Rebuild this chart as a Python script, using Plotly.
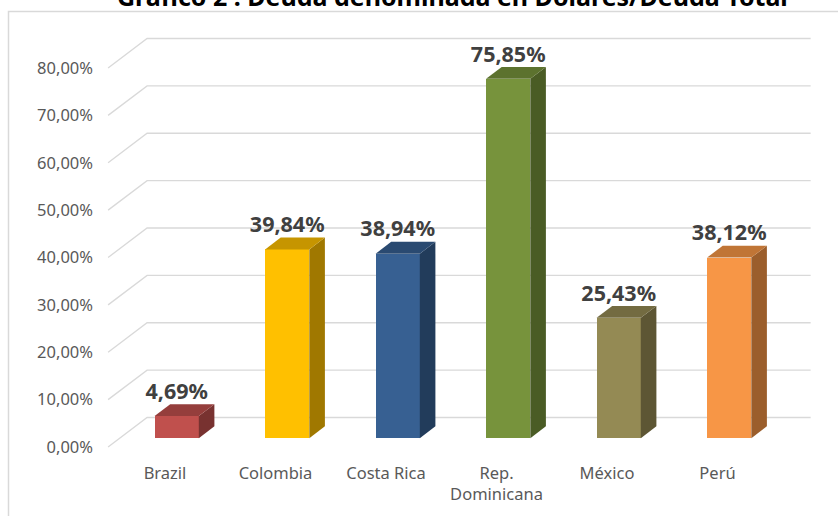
import plotly.graph_objects as go

# ---- data ----
categories = ["Brazil", "Colombia", "Costa Rica", "Rep.<br>Dominicana", "México", "Perú"]
values = [4.69, 39.84, 38.94, 75.85, 25.43, 38.12]
y_ticks = [0, 10, 20, 30, 40, 50, 60, 70, 80]
y_tick_labels = [f"{t:.2f}%".replace(".", ",") for t in y_ticks]
value_labels = [f"{v:.2f}%".replace(".", ",") for v in values]
front_colors = ["#C0504D", "#FFC000", "#376092", "#77933C", "#948A54", "#F79646"]
title_text = "Gráfico 2 : Deuda denominada en Dólares/Deuda Total"

# ---- geometry (pixel layout) ----
W, H = 838, 516
L, R, T, B = 100, 818, 20, 452
px_cat, px_pct = 110.5, 4.7375
cat0_px, zero_px = 165, 447
x_range = [(L - cat0_px) / px_cat, (R - cat0_px) / px_cat]
y_range = [(zero_px - B) / px_pct, (zero_px - T) / px_pct]

XL, XR = -0.515, 5.49          # front-plane extent of the floor/walls
DX, DY = 39 / px_cat, 29.5 / px_pct   # depth offset of back wall
f0, f1 = 0.3, 0.7              # bar front / back depth fractions
bw = 0.4


def shade(hexc, k):
    hexc = hexc.lstrip("#")
    r, g, b = (int(hexc[i:i + 2], 16) for i in (0, 2, 4))
    return "#%02X%02X%02X" % (int(r * k), int(g * k), int(b * k))


fig = go.Figure()

# gridlines (left wall diagonal + back wall horizontal)
shapes = []
for t in y_ticks:
    path = f"M {XL},{t} L {XL + DX},{t + DY} L {XR + DX},{t + DY}"
    shapes.append(dict(type="path", path=path, xref="x", yref="y", layer="below",
                       line=dict(color="#D9D9D9", width=1.3)))


def px2paper_x(px):
    return (px - L) / (R - L)


def px2paper_y(py):
    return (B - py) / (B - T)


# chart-area border (left and top)
shapes.append(dict(type="path", xref="paper", yref="paper",
                   path=f"M {px2paper_x(8.5)},{px2paper_y(H + 5)} L {px2paper_x(8.5)},{px2paper_y(11.5)} L {px2paper_x(W + 5)},{px2paper_y(11.5)}",
                   line=dict(color="#D9D9D9", width=1.5)))

bx0, by0 = DX * f0, DY * f0
ddx, ddy = DX * (f1 - f0), DY * (f1 - f0)
xc = [i + bx0 for i in range(len(categories))]

# front faces
fig.add_trace(go.Bar(x=xc, y=values, base=[by0] * len(values), width=bw,
                     marker=dict(color=front_colors, line=dict(width=0)),
                     hoverinfo="skip", showlegend=False))

# side & top faces
for x, v, c in zip(xc, values, front_colors):
    top = by0 + v
    fig.add_trace(go.Scatter(
        x=[x + bw / 2, x + bw / 2 + ddx, x + bw / 2 + ddx, x + bw / 2, x + bw / 2],
        y=[by0, by0 + ddy, top + ddy, top, by0],
        fill="toself", fillcolor=shade(c, 0.63), mode="lines", line=dict(width=0),
        hoverinfo="skip", showlegend=False))
    fig.add_trace(go.Scatter(
        x=[x - bw / 2, x + bw / 2, x + bw / 2 + ddx, x - bw / 2 + ddx, x - bw / 2],
        y=[top, top, top + ddy, top + ddy, top],
        fill="toself", fillcolor=shade(c, 0.78), mode="lines", line=dict(width=0),
        hoverinfo="skip", showlegend=False))

# data labels
fig.add_trace(go.Scatter(
    x=xc, y=[by0 + v + ddy for v in values], mode="text", text=value_labels,
    textposition="top center", cliponaxis=False,
    textfont=dict(family="Noto Sans", size=21.5, color="#404040", weight="bold"),
    hoverinfo="skip", showlegend=False))

fig.update_layout(
    width=W, height=H,
    margin=dict(l=L, r=W - R, t=T, b=H - B, pad=0),
    plot_bgcolor="white", paper_bgcolor="white",
    shapes=shapes,
    bargap=0,
    xaxis=dict(range=x_range, tickvals=list(range(len(categories))), ticktext=categories,
               showgrid=False, zeroline=False, showline=False, ticks="",
               ticklabelstandoff=9,
               tickfont=dict(family="Noto Sans", size=16.5, color="#595959"),
               fixedrange=True),
    yaxis=dict(range=y_range, tickvals=y_ticks, ticktext=y_tick_labels,
               showgrid=False, zeroline=False, showline=False, ticks="",
               ticklabelstandoff=6,
               tickfont=dict(family="Noto Sans", size=16.5, color="#595959"),
               fixedrange=True),
    annotations=[dict(text=f"<b>{title_text}</b>", xref="paper", yref="paper",
                      x=px2paper_x(452), y=px2paper_y(15), xanchor="center", yanchor="bottom",
                      showarrow=False,
                      font=dict(family="Noto Sans", size=25, color="#000000"))],
    showlegend=False,
)

fig.write_html("out.html")
